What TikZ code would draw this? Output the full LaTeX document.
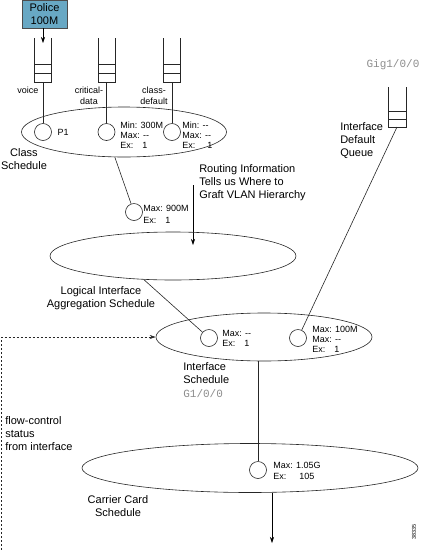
\documentclass[tikz,border=0pt]{standalone}
\usepackage{fontspec}
\setmainfont{Liberation Sans}
\setmonofont{Liberation Mono}
\usetikzlibrary{shapes.geometric, arrows.meta, positioning, calc}
\definecolor{policeblue}{RGB}{104,168,196}

\begin{document}
\begin{tikzpicture}[
      x=1pt, y=-1pt,
      line width=0.6pt,
      police/.style={rectangle, draw=black!70, fill=policeblue, minimum width=45pt, minimum height=28pt, align=center, inner sep=0pt, font=\fontsize{11}{13}\selectfont},
      sched/.style={ellipse, draw=black!85, inner sep=0pt},
      slot/.style={circle, draw=black!85, minimum size=17pt, inner sep=0pt},
      stats/.style={anchor=west, align=left, inner sep=0pt, font=\fontsize{9}{10}\selectfont},
      lbl/.style={align=center, inner sep=0pt, font=\fontsize{11}{13}\selectfont},
      qlbl/.style={align=center, inner sep=0pt, font=\fontsize{9}{11}\selectfont},
      iface/.style={inner sep=0pt, text=black!45, font=\fontsize{11}{13}\ttfamily},
      arrow/.style={-{Stealth[length=6pt, width=4pt]}},
      link/.style={draw=black!85}
    ]
    \useasboundingbox (0,0) rectangle (422,550);

    \node[police] (pol) at (44.5,14) {Police\\100M};

    \foreach \qx/\qn in {43/voice, 106.5/crit, 172/cdef} {
      \draw[link] (\qx-8.5,38) -- (\qx-8.5,82) -- (\qx+8.5,82) -- (\qx+8.5,38);
      \draw[link] (\qx-8.5,64) -- (\qx+8.5,64) (\qx-8.5,73) -- (\qx+8.5,73);
      \coordinate (q-\qn) at (\qx,82);
    }
    \coordinate (v-in) at (43,43);
    \draw[arrow] (pol.south -| v-in) -- (v-in);

    \node[qlbl] (voice-l) at (28,90) {voice};
    \node[qlbl] (crit-l) at (89,96) {critical-\\data};
    \node[qlbl] (cdef-l) at (154,96) {class-\\default};

    \node[sched, minimum width=205pt, minimum height=50pt] (cls) at (124,132) {};
    \node[slot] (p1) at (43,132) {};
    \node[slot] (crit) at (106.5,132) {};
    \node[slot] (cdef) at (172,132) {};
    \node[stats, right=5.5pt of p1] (p1-t) {P1};
    \node[stats] (crit-t) at (120,135) {Min: 300M\\Max: -{}-\\Ex:\hspace{9pt}1};
    \node[stats] (cdef-t) at (182,135) {Min: -{}-\\Max: -{}-\\Ex:\hspace{12pt}1};
    \draw[link] (q-voice) -- (p1);
    \draw[link] (q-crit) -- (crit);
    \draw[link] (q-cdef) -- (cdef);
    \node[lbl] (cls-l) at (24,159) {Class\\Schedule};

    \node[slot] (vlan) at (134,212) {};
    \node[stats] (vlan-t) at (143,214) {Max: 900M\\[2pt]Ex:\hspace{9pt}1};
    \draw[link] (cls.250) -- (vlan);

    \node[lbl, align=left, anchor=west] (route) at (199,183) {Routing Information\\Tells us Where to\\Graft VLAN Hierarchy};
    \coordinate (rt-a) at (193,185);
    \coordinate (rt-b) at (193,245);
    \draw[arrow] (rt-a) -- (rt-b);

    \node[sched, minimum width=246pt, minimum height=48pt] (lia) at (173,256) {};
    \node[lbl] (lia-l) at (101,298) {Logical Interface\\Aggregation Schedule};

    \draw[link] (388,87) -- (388,127) -- (406,127) -- (406,87);
    \draw[link] (388,111) -- (406,111) (388,119) -- (406,119);
    \coordinate (q-gig) at (397,127);
    \node[iface] (gig-l) at (393,65) {Gig1/0/0};
    \node[lbl, align=left, anchor=west] (gig-q) at (340,141) {Interface\\Default\\Queue};

    \node[sched, minimum width=216pt, minimum height=48pt] (ifs) at (264,337) {};
    \node[slot] (if1) at (209,338) {};
    \node[slot] (if2) at (298,338) {};
    \node[stats] (if1-t) at (222,338) {Max: -{}-\\Ex:\hspace{9pt}1};
    \node[stats] (if2-t) at (312,339.5) {Max: 100M\\Max: -{}-\\Ex:\hspace{9pt}1};
    \draw[link] (lia.219) -- (if1);
    \draw[link] (q-gig) -- (if2);
    \node[lbl, align=left, anchor=west] (ifs-l) at (183,373.5) {Interface\\Schedule};
    \node[iface, anchor=west] (ifs-g) at (183,394) {G1/0/0};

    \coordinate (fc) at (1.5,550);
    \draw[link, dash pattern=on 2.5pt off 1.5pt, arrow] (fc) |- (ifs.west);
    \node[lbl, align=left, anchor=west] (fc-l) at (5,434) {flow-control\\status\\from interface};

    \node[sched, minimum width=336pt, minimum height=49pt] (cc) at (250,468) {};
    \node[slot] (cc1) at (258,470) {};
    \node[stats] (cc1-t) at (273,471) {Max: 1.05G\\[1pt]Ex:\hspace{13pt}105};
    \draw[link] (cc1 |- ifs.south) -- (cc1);
    \coordinate (out) at (272,543);
    \draw[arrow] (out |- cc.south) -- (out);
    \node[lbl] (cc-l) at (118,506) {Carrier Card\\Schedule};

    \node[rotate=90, inner sep=0pt, font=\fontsize{5.5}{6}\selectfont] (fig-id) at (414,532) {38335};
  \end{tikzpicture}
\end{document}
